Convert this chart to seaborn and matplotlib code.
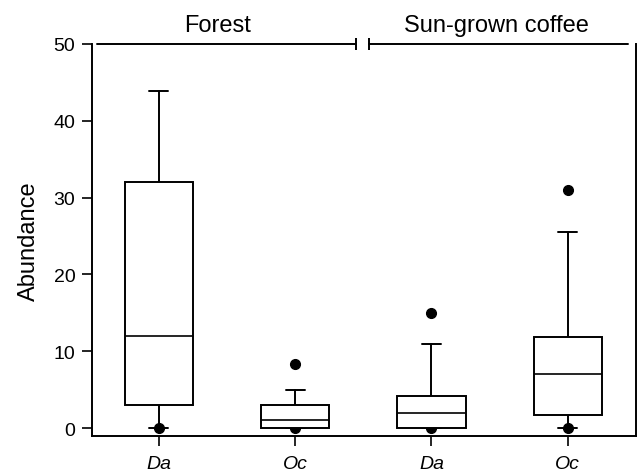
import matplotlib
matplotlib.use("Agg")
import matplotlib.pyplot as plt
import seaborn as sns

# values (SigmaPlot style boxes)
habitats = ["Forest", "Sun-grown coffee"]
species = ["Da", "Oc", "Da", "Oc"]
q1 = [3.0, 0.0, 0.0, 1.75]
medians = [12.0, 1.0, 2.0, 7.0]
q3 = [32.0, 3.0, 4.2, 11.9]
whisker_low = [0.0, 0.0, 0.0, 0.0]
whisker_high = [43.9, 4.9, 10.9, 25.5]
outliers = [[0.0], [0.0, 8.3], [0.0, 15.0], [0.0, 31.0]]

sns.set_style("ticks", {"text.color": "black", "axes.labelcolor": "black",
                        "xtick.color": "black", "ytick.color": "black",
                        "axes.edgecolor": "black"})
plt.rcParams["font.family"] = ["Liberation Sans", "DejaVu Sans"]

stats = []
for i in range(len(species)):
    stats.append(dict(label=species[i], q1=q1[i], med=medians[i], q3=q3[i],
                      whislo=whisker_low[i], whishi=whisker_high[i],
                      fliers=outliers[i]))

fig, ax = plt.subplots(figsize=(6.37, 4.77), dpi=100)
fig.subplots_adjust(left=92/637, right=636/637, bottom=1-437/477, top=1-45/477)

lw = 1.4
ax.bxp(stats, positions=range(len(species)), widths=0.5, capwidths=0.14,
       patch_artist=True,
       boxprops=dict(facecolor="white", edgecolor="black", linewidth=lw, zorder=3),
       medianprops=dict(color="black", linewidth=1.2, zorder=4),
       whiskerprops=dict(color="black", linewidth=lw),
       capprops=dict(color="black", linewidth=lw),
       flierprops=dict(marker="o", markerfacecolor="black", markeredgecolor="black",
                       markersize=7, zorder=2.5))

ax.set_xlim(-0.49, 3.5)
ax.set_ylim(-1.04, 50)
ax.set_yticks(range(0, 51, 10))
ax.set_xticks(range(len(species)))
ax.tick_params(axis="both", length=7, width=1.2, labelsize=14, color="black",
               labelcolor="black")
ax.set_xticklabels(species, fontstyle="italic", fontsize=14)
ax.tick_params(axis="y", pad=5)
ax.tick_params(axis="x", pad=7)
ax.set_ylabel("Abundance", fontsize=17, labelpad=10, color="black")

ax.spines["top"].set_visible(False)
for s in ["left", "right", "bottom"]:
    ax.spines[s].set_linewidth(lw)
    ax.spines[s].set_color("black")

# group brackets along the top
spans = [(-0.455, 1.445), (1.54, 3.44)]
cap_at = [1.445, 1.54]
text_x = [0.43, 2.48]
for (lo, hi), c, tx, name in zip(spans, cap_at, text_x, habitats):
    ax.plot([lo, hi], [50, 50], color="black", linewidth=lw, clip_on=False)
    ax.plot([c], [50], marker="|", markersize=9, markeredgewidth=lw,
            color="black", clip_on=False)
    ax.annotate(name, xy=(tx, 50), xytext=(0, 9.5), textcoords="offset points",
                ha="center", va="baseline", fontsize=17, color="black",
                annotation_clip=False)

plt.savefig("out.png", dpi=100)
